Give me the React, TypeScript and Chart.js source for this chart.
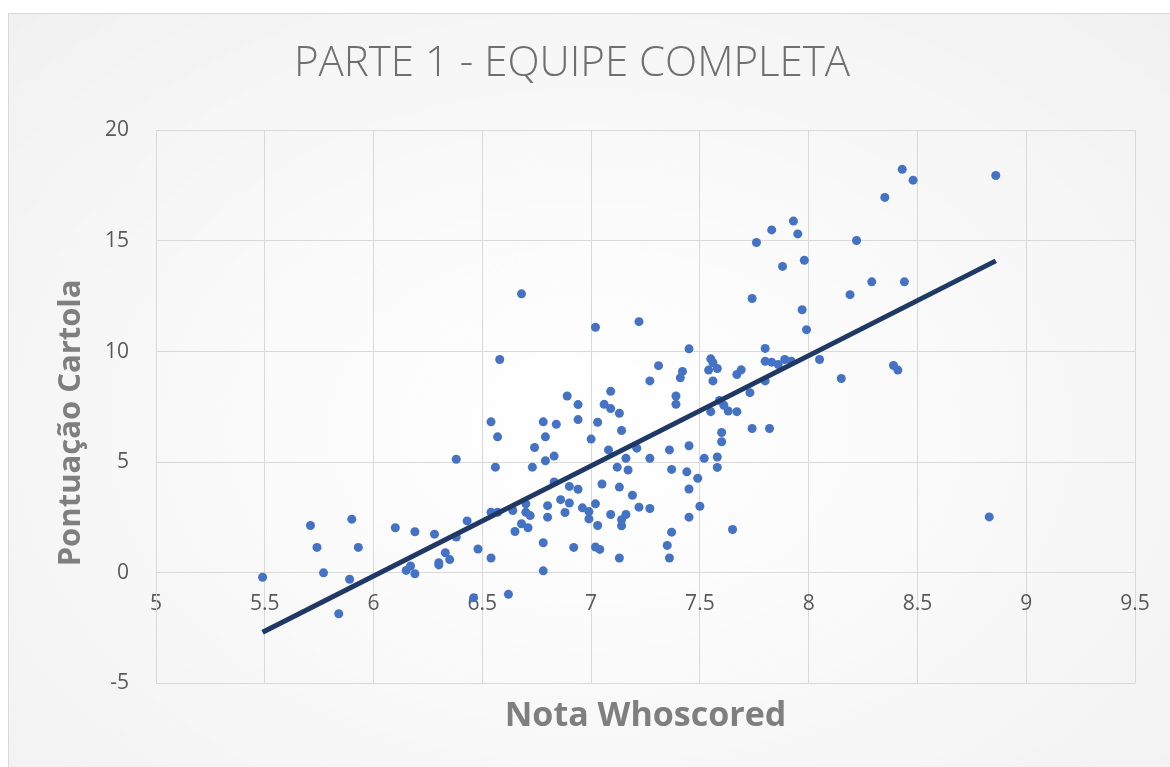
import React, { useEffect, useRef } from "react";
import { Chart, registerables } from "chart.js";

Chart.register(...registerables);

const chartTitle = "PARTE 1 - EQUIPE COMPLETA";
const xAxisTitle = "Nota Whoscored";
const yAxisTitle = "Pontuação Cartola    ";

const notaWhoscored: number[] = [
  5.49, 5.71, 5.9, 5.74, 5.93, 5.77, 5.89, 5.84, 6.1, 6.19,
  6.28, 6.38, 6.43, 6.33, 6.35, 6.3, 6.3, 6.15, 6.17, 6.19,
  6.48, 6.54, 6.54, 6.57, 6.46, 6.62, 6.78, 6.38, 6.58, 6.54,
  6.57, 6.56, 6.78, 6.84, 6.79, 6.74, 6.83, 6.79, 6.73, 6.89,
  6.94, 6.94, 7.0, 7.03, 7.09, 7.06, 7.09, 7.13, 7.14, 7.08,
  7.16, 7.12, 7.17, 7.21, 7.27, 7.27, 7.31, 7.36, 7.37, 6.83,
  6.9, 6.94, 7.05, 7.13, 7.19, 7.22, 7.27, 6.86, 6.9, 6.88,
  6.96, 6.99, 7.02, 6.99, 7.03, 7.09, 7.16, 7.14, 7.14, 6.7,
  6.7, 6.72, 6.8, 6.8, 6.64, 6.68, 6.71, 6.65, 6.78, 6.92,
  7.02, 7.04, 7.13, 7.37, 7.35, 7.36, 7.39, 7.39, 7.45, 7.42,
  7.41, 7.55, 7.56, 7.54, 7.58, 7.56, 7.67, 7.69, 7.8, 7.8,
  7.83, 7.86, 7.89, 7.92, 7.8, 7.73, 7.97, 7.99, 8.05, 8.15,
  7.59, 7.61, 7.55, 7.63, 7.67, 7.74, 7.82, 7.6, 7.6, 7.45,
  7.52, 7.58, 7.58, 7.44, 7.49, 7.45, 7.5, 7.45, 7.65, 7.74,
  8.43, 8.48, 8.86, 8.35, 7.93, 7.83, 7.95, 7.76, 8.22, 7.98,
  7.88, 8.29, 8.44, 8.19, 8.39, 8.41, 8.83, 6.68, 7.02, 7.22,
];

const pontuacaoCartola: number[] = [
  -0.21, 2.13, 2.42, 1.14, 1.14, -0.01, -0.3, -1.86, 2.03, 1.85,
  1.74, 1.61, 2.34, 0.9, 0.59, 0.45, 0.35, 0.1, 0.3, -0.05,
  1.07, 0.66, 2.73, 2.73, -1.14, -0.98, 0.08, 5.13, 9.64, 6.82,
  6.14, 4.77, 6.82, 6.71, 6.14, 5.66, 5.27, 5.06, 4.77, 7.99,
  7.6, 6.92, 6.04, 6.8, 8.2, 7.61, 7.42, 7.21, 6.43, 5.55,
  5.17, 4.77, 4.64, 5.63, 5.17, 8.67, 9.36, 5.55, 4.67, 4.1,
  3.9, 3.77, 4.01, 3.87, 3.5, 2.96, 2.9, 3.3, 3.15, 2.72,
  2.93, 2.76, 3.11, 2.43, 2.13, 2.63, 2.63, 2.39, 2.12, 3.11,
  2.73, 2.58, 3.03, 2.51, 2.81, 2.21, 2.03, 1.86, 1.35, 1.14,
  1.16, 1.05, 0.66, 1.83, 1.23, 0.66, 7.99, 7.61, 10.12, 9.1,
  8.81, 9.67, 9.49, 9.16, 9.23, 8.67, 8.96, 9.17, 10.14, 9.56,
  9.52, 9.41, 9.64, 9.56, 8.67, 8.14, 11.89, 10.99, 9.64, 8.78,
  7.79, 7.57, 7.28, 7.31, 7.28, 6.52, 6.52, 6.34, 5.92, 5.74,
  5.17, 5.23, 4.76, 4.56, 4.27, 3.78, 3.0, 2.51, 1.95, 12.4,
  18.24, 17.75, 17.96, 16.97, 15.9, 15.5, 15.32, 14.93, 15.02, 14.13,
  13.85, 13.15, 13.15, 12.57, 9.37, 9.16, 2.52, 12.61, 11.1, 11.35,
];

const trendX: number[] = [5.49, 8.86];
const trendY: number[] = [-2.7, 14.1];

const xTicks = { min: 5, max: 9.5, step: 0.5 };
const yTicks = { min: -5, max: 20, step: 5 };

export default function App() {
  const canvasRef = useRef<HTMLCanvasElement | null>(null);

  useEffect(() => {
    if (!canvasRef.current) return;
    const scatterData = notaWhoscored.map((x, i) => ({ x, y: pontuacaoCartola[i] }));
    const trendData = trendX.map((x, i) => ({ x, y: trendY[i] }));
    const chart = new Chart(canvasRef.current, {
      type: "scatter",
      data: {
        datasets: [
          {
            type: "line",
            label: "Tendência",
            data: trendData,
            borderColor: "#1f3864",
            borderWidth: 5,
            pointRadius: 0,
            fill: false,
            borderCapStyle: "butt",
          },
          {
            label: "Pontuação",
            data: scatterData,
            backgroundColor: "#4472c4",
            borderColor: "#4472c4",
            borderWidth: 0,
            pointRadius: 4.5,
          },
        ],
      },
      options: {
        animation: false,
        responsive: true,
        maintainAspectRatio: false,
        layout: { padding: { left: 0, right: 35, top: 0, bottom: 0 } },
        plugins: {
          legend: { display: false },
          tooltip: { enabled: false },
          title: {
            display: true,
            text: chartTitle,
            color: "#6f6f6f",
            font: { family: "'Open Sans', sans-serif", size: 42, weight: "300" },
            padding: { top: 25, bottom: 41 },
          },
          subtitle: {
            display: true,
            position: "bottom",
            fullSize: false,
            text: xAxisTitle,
            color: "#7f7f7f",
            font: { family: "'Open Sans', sans-serif", size: 34, weight: "bold" },
            padding: { top: 13, bottom: 30 },
          },
        },
        scales: {
          x: {
            type: "linear",
            position: { y: 0 },
            min: xTicks.min,
            max: xTicks.max,
            ticks: {
              stepSize: xTicks.step,
              color: "#595959",
              font: { family: "'Open Sans', sans-serif", size: 21 },
              padding: 19,
              maxRotation: 0,
              callback: (v: any) => String(Number(v)),
            },
            grid: { color: "#d9d9d9", lineWidth: 1, drawTicks: false },
            border: { color: "#d9d9d9" },
          },
          y: {
            type: "linear",
            min: yTicks.min,
            max: yTicks.max,
            ticks: {
              stepSize: yTicks.step,
              color: "#595959",
              font: { family: "'Open Sans', sans-serif", size: 21 },
              padding: 27,
            },
            grid: { color: "#d9d9d9", lineWidth: 1, drawTicks: false },
            border: { color: "#d9d9d9" },
            title: {
              display: true,
              text: yAxisTitle,
              color: "#7f7f7f",
              font: { family: "'Open Sans', sans-serif", size: 31, weight: "bold" },
              padding: { top: 44, bottom: 0 },
            },
            afterFit: (scale: any) => {
              scale.width = 147;
            },
          },
        },
      },
    });
    return () => chart.destroy();
  }, []);

  return (
    <div
      style={{
        position: "fixed",
        left: 8,
        top: 13,
        width: 1162,
        height: 754,
        boxSizing: "border-box",
        borderLeft: "1px solid #d9d9d9",
        borderTop: "1px solid #d9d9d9",
        background: "radial-gradient(ellipse at 50% 55%, #ffffff 0%, #fbfbfb 35%, #f1f1f1 100%)",
      }}
    >
      <canvas ref={canvasRef} />
    </div>
  );
}
